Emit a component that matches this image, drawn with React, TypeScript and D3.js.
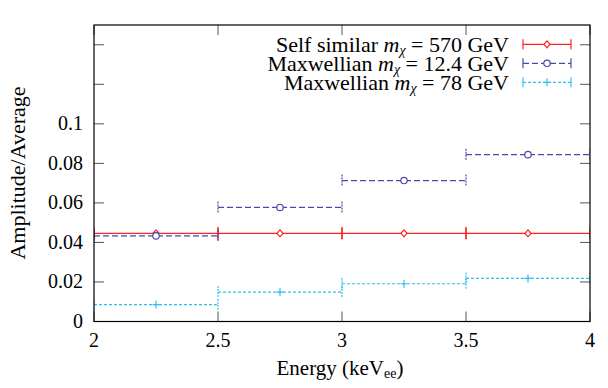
import React from 'react';
import * as d3 from 'd3';

// bins in keV_ee and amplitude/average per bin
const binEdges = [2, 2.5, 3, 3.5, 4];
const binCenters = [2.25, 2.75, 3.25, 3.75];
const selfSimilar570 = [0.0446, 0.0446, 0.0446, 0.0446];
const maxwellian124 = [0.0433, 0.0577, 0.0713, 0.0844];
const maxwellian78 = [0.0085, 0.0149, 0.0191, 0.0218];

const xTicks = [2, 2.5, 3, 3.5, 4];
const yTicks = [0, 0.02, 0.04, 0.06, 0.08, 0.1, 0.12, 0.14];
const yLabelled = [0, 0.02, 0.04, 0.06, 0.08, 0.1];

const W = 608;
const H = 388;
const margin = { top: 25, right: 18, bottom: 66.5, left: 94 };
const txt = { fontFamily: 'Liberation Serif' };

type Series = {
  name: string;
  mass: string;
  values: number[];
  color: string;
  dash: string;
  marker: 'diamond' | 'circle' | 'plus';
};

const series: Series[] = [
  { name: 'Self similar', mass: '570', values: selfSimilar570, color: '#ff2020', dash: '', marker: 'diamond' },
  { name: 'Maxwellian', mass: '12.4', values: maxwellian124, color: '#4a4aa8', dash: '6,3', marker: 'circle' },
  { name: 'Maxwellian', mass: '78', values: maxwellian78, color: '#30bff0', dash: '3,2', marker: 'plus' },
];

function Marker({ kind, x, y, color }: { kind: string; x: number; y: number; color: string }) {
  if (kind === 'diamond') {
    const d = `M${x},${y - 3.5}L${x + 3},${y}L${x},${y + 3.5}L${x - 3},${y}Z`;
    return <path d={d} fill="white" stroke={color} strokeWidth={1.2} />;
  }
  if (kind === 'circle') {
    return <circle cx={x} cy={y} r={3.2} fill="white" stroke={color} strokeWidth={1.2} />;
  }
  return (
    <path d={`M${x - 3.5},${y}H${x + 3.5}M${x},${y - 4}V${y + 4}`} stroke={color} strokeWidth={1.2} />
  );
}

function MassLabel({ s }: { s: Series }) {
  return (
    <>
      {s.name + ' '}
      <tspan fontStyle="italic">m</tspan>
      <tspan fontStyle="italic" fontSize={14} dy={3}>χ</tspan>
      <tspan dy={-3}>{' = ' + s.mass + ' GeV'}</tspan>
    </>
  );
}

export default function App() {
  const innerW = W - margin.left - margin.right;
  const innerH = H - margin.top - margin.bottom;

  const x = d3.scaleLinear().domain([2, 4]).range([0, innerW]);
  const y = d3.scaleLinear().domain([0, 0.15]).range([innerH, 0]);

  const tickLen = 10;
  const cap = 6;

  return (
    <svg width={W} height={H} style={{ position: 'absolute', left: 0, top: 0 }}>
      <rect width={W} height={H} fill="white" />
      <g transform={`translate(${margin.left},${margin.top})`}>
        <defs>
          <clipPath id="plotClip">
            <rect x={0} y={0} width={innerW} height={innerH} />
          </clipPath>
        </defs>

        {/* ticks on all four sides */}
        {xTicks.map((t) => (
          <g key={'xt' + t}>
            <line x1={x(t)} x2={x(t)} y1={innerH} y2={innerH - tickLen} stroke="#555" />
            <line x1={x(t)} x2={x(t)} y1={0} y2={tickLen} stroke="#555" />
            <text x={x(t)} y={innerH + 25.5} textAnchor="middle" fontSize={20} style={txt}>
              {d3.format('')(t)}
            </text>
          </g>
        ))}
        {yTicks.map((t) => (
          <g key={'yt' + t}>
            <line x1={0} x2={tickLen} y1={y(t)} y2={y(t)} stroke="#555" />
            <line x1={innerW} x2={innerW - tickLen} y1={y(t)} y2={y(t)} stroke="#555" />
          </g>
        ))}
        {yLabelled.map((t) => (
          <text key={'yl' + t} x={-11} y={y(t) + 6.5} textAnchor="end" fontSize={20} style={txt}>
            {d3.format('')(t)}
          </text>
        ))}

        {/* data: horizontal bin error bars with caps */}
        <g clipPath="url(#plotClip)">
          {series.map((s, si) => (
            <g key={'s' + si}>
              {s.values.map((v, i) => {
                const x0 = x(binEdges[i]);
                const x1 = x(binEdges[i + 1]);
                const yy = y(v);
                return (
                  <g key={i}>
                    <line x1={x0} x2={x1} y1={yy} y2={yy} stroke={s.color} strokeWidth={1.2} strokeDasharray={s.dash} />
                    <line x1={x0} x2={x0} y1={yy - cap} y2={yy + cap} stroke={s.color} strokeWidth={1.2} strokeDasharray={s.dash ? '2,1' : ''} />
                    <line x1={x1} x2={x1} y1={yy - cap} y2={yy + cap} stroke={s.color} strokeWidth={1.2} strokeDasharray={s.dash ? '2,1' : ''} />
                    <Marker kind={s.marker} x={x(binCenters[i])} y={yy} color={s.color} />
                  </g>
                );
              })}
            </g>
          ))}
        </g>

        {/* legend */}
        {series.map((s, si) => {
          const ly = 19.3 + si * 19;
          const lx0 = 429;
          const lx1 = 477;
          return (
            <g key={'lg' + si}>
              <text x={415} y={ly + 7.5} textAnchor="end" fontSize={22} style={txt}>
                <MassLabel s={s} />
              </text>
              <line x1={lx0} x2={lx1} y1={ly} y2={ly} stroke={s.color} strokeWidth={1.2} strokeDasharray={s.dash} />
              <line x1={lx0} x2={lx0} y1={ly - 5} y2={ly + 5} stroke={s.color} strokeWidth={1.2} />
              <line x1={lx1} x2={lx1} y1={ly - 5} y2={ly + 5} stroke={s.color} strokeWidth={1.2} />
              <Marker kind={s.marker} x={(lx0 + lx1) / 2} y={ly} color={s.color} />
            </g>
          );
        })}

        <rect x={0} y={0} width={innerW} height={innerH} fill="none" stroke="black" strokeWidth={1.2} />

        {/* axis titles */}
        <text x={innerW / 2 - 2} y={innerH + 53.5} textAnchor="middle" fontSize={21} style={txt}>
          Energy (keV<tspan fontSize={14} dy={3}>ee</tspan><tspan dy={-3}>)</tspan>
        </text>
        <text transform={`translate(${-69},${148}) rotate(-90)`} textAnchor="middle" fontSize={22} style={txt}>
          Amplitude/Average
        </text>
      </g>
    </svg>
  );
}
